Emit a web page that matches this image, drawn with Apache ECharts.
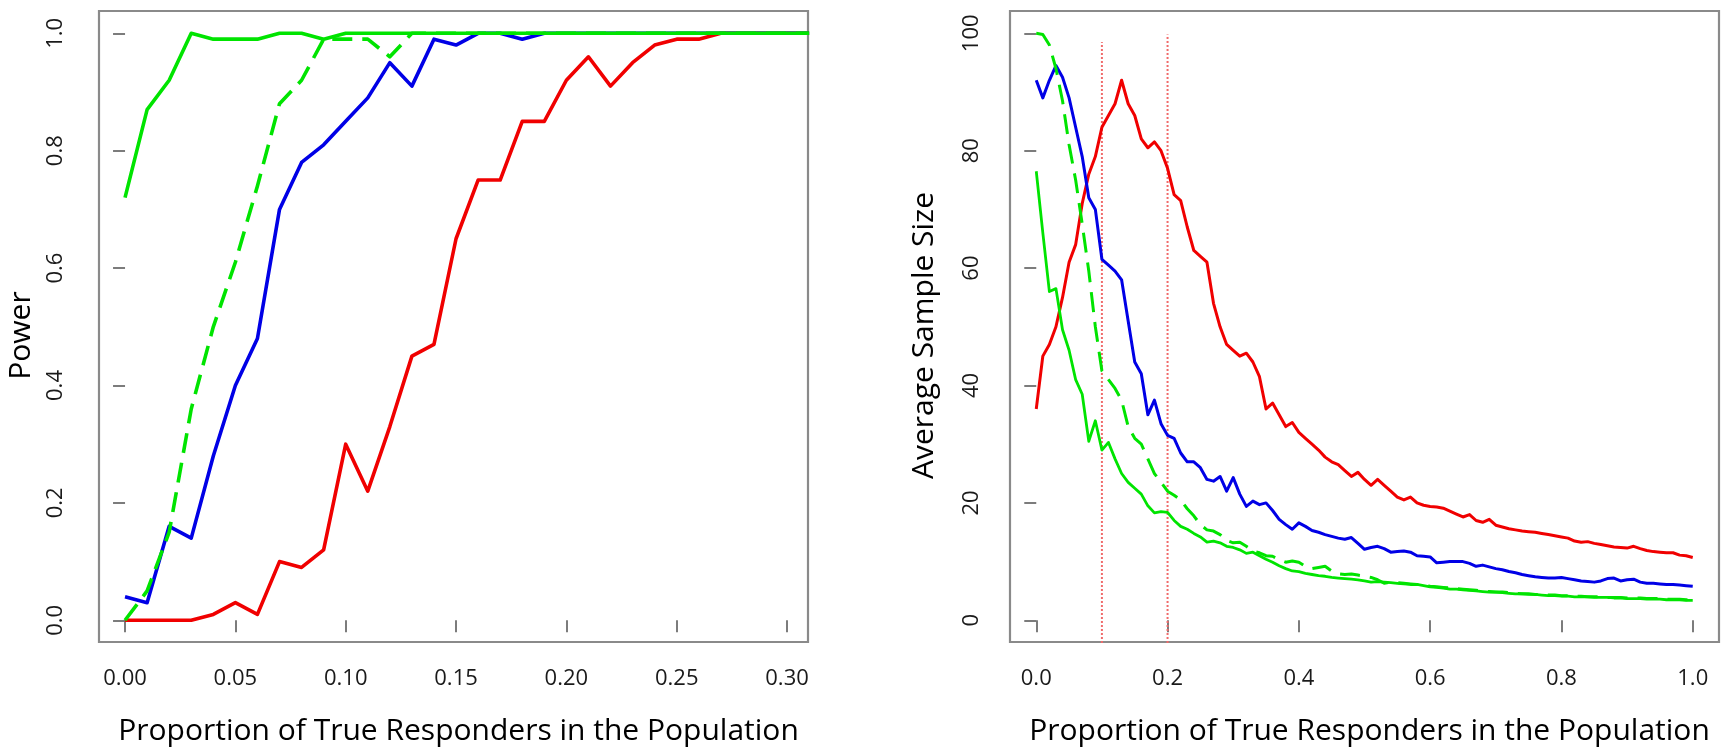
<!DOCTYPE html>
<html><head><meta charset="utf-8">
<script src="https://cdn.jsdelivr.net/npm/echarts@6/dist/echarts.min.js"></script>
<style>html,body{margin:0;padding:0;background:#fff}#c{width:1731px;height:755px}</style>
</head><body><div id="c"></div>
<script>
// ---------- Left panel: Power ----------
const powerX = [0.00,0.01,0.02,0.03,0.04,0.05,0.06,0.07,0.08,0.09,0.10,0.11,0.12,0.13,0.14,0.15,0.16,0.17,0.18,0.19,0.20,0.21,0.22,0.23,0.24,0.25,0.26,0.27,0.28,0.29,0.30,0.31];
const powerRed = [0,0,0,0,0.01,0.03,0.01,0.10,0.09,0.12,0.30,0.22,0.33,0.45,0.47,0.65,0.75,0.75,0.85,0.85,0.92,0.96,0.91,0.95,0.98,0.99,0.99,1.00,1.00,1.00,1.00,1.00];
const powerBlue = [0.04,0.03,0.16,0.14,0.28,0.40,0.48,0.70,0.78,0.81,0.85,0.89,0.95,0.91,0.99,0.98,1.00,1.00,0.99,1.00,1.00,1.00,1.00,1.00,1.00,1.00,1.00,1.00,1.00,1.00,1.00,1.00];
const powerGreenDashed = [0.00,0.05,0.15,0.36,0.50,0.61,0.74,0.88,0.92,0.99,0.99,0.99,0.96,1.00,1.00,1.00,1.00,1.00,1.00,1.00,1.00,1.00,1.00,1.00,1.00,1.00,1.00,1.00,1.00,1.00,1.00,1.00];
const powerGreen = [0.72,0.87,0.92,1.00,0.99,0.99,0.99,1.00,1.00,0.99,1.00,1.00,1.00,1.00,1.00,1.00,1.00,1.00,1.00,1.00,1.00,1.00,1.00,1.00,1.00,1.00,1.00,1.00,1.00,1.00,1.00,1.00];
const powerXTicks = [0,0.05,0.10,0.15,0.20,0.25,0.30];
const powerYTicks = [0,0.2,0.4,0.6,0.8,1.0];

// ---------- Right panel: Average Sample Size ----------
const ssX = [0.00,0.01,0.02,0.03,0.04,0.05,0.06,0.07,0.08,0.09,0.10,0.11,0.12,0.13,0.14,0.15,0.16,0.17,0.18,0.19,0.20,0.21,0.22,0.23,0.24,0.25,0.26,0.27,0.28,0.29,0.30,0.31,0.32,0.33,0.34,0.35,0.36,0.37,0.38,0.39,0.40,0.41,0.42,0.43,0.44,0.45,0.46,0.47,0.48,0.49,0.50,0.51,0.52,0.53,0.54,0.55,0.56,0.57,0.58,0.59,0.60,0.61,0.62,0.63,0.64,0.65,0.66,0.67,0.68,0.69,0.70,0.71,0.72,0.73,0.74,0.75,0.76,0.77,0.78,0.79,0.80,0.81,0.82,0.83,0.84,0.85,0.86,0.87,0.88,0.89,0.90,0.91,0.92,0.93,0.94,0.95,0.96,0.97,0.98,0.99,1.00];
const ssRed = [36,45,47,50,55,61,64,71,76,79,84,86,88,92,88,86,82,80.5,81.5,80,77,72.5,71.5,67,63,62,61,54,50,47,46,45,45.5,44,41.5,36,37,35,33,33.7,32,31,30,29,27.8,27,26.5,25.5,24.5,25.2,24,23,24,23,22,21,20.5,21,20,19.6,19.4,19.3,19.1,18.6,18.1,17.6,18,17,16.7,17.2,16.2,15.9,15.6,15.4,15.2,15.1,15,14.8,14.6,14.4,14.2,14,13.5,13.3,13.4,13.1,12.9,12.7,12.5,12.4,12.3,12.6,12.2,11.9,11.7,11.6,11.5,11.5,11.1,11,10.7];
const ssBlue = [92,89,92,94.5,92.5,89,84,79,72,70,61.5,60.5,59.5,58,51,44,42,35,37.5,33.5,31.5,31,28.5,27,27,26,24,23.7,24.5,22,24.3,21.5,19.4,20.3,19.7,20,18.7,17.2,16.3,15.5,16.6,16,15.3,15,14.6,14.3,14,13.8,14.1,13.1,12.1,12.4,12.6,12.2,11.6,11.7,11.8,11.6,11,10.9,10.8,9.8,9.9,10,10,10,9.7,9.2,9.4,9.1,8.8,8.6,8.3,8.1,7.8,7.6,7.4,7.3,7.2,7.2,7.3,7.1,6.9,6.7,6.6,6.5,6.7,7.1,7.2,6.7,6.9,7.0,6.5,6.3,6.3,6.2,6.1,6.1,6.0,5.9,5.8];
const ssGreenDashed = [100,99.8,98,94,88.5,81,75,67.5,59.5,50,42.5,41,39.5,37.5,33,31,30,27.5,25,23.5,22,21.3,20.5,19,17.8,16.3,15.4,15.2,14.6,13.6,13.2,13.3,12.6,11.8,11.5,11,10.9,10.3,9.9,10.1,9.9,9.2,8.8,9.0,9.2,8.4,7.9,7.8,7.9,7.7,7.5,7.3,6.9,6.3,6.5,6.4,6.3,6.2,6.1,6.0,5.8,5.7,5.6,5.5,5.4,5.3,5.2,5.1,5.0,4.9,4.8,4.8,4.7,4.6,4.5,4.5,4.4,4.4,4.3,4.3,4.2,4.2,4.1,4.1,4.0,4.0,4.0,3.9,3.9,3.9,3.8,3.8,3.8,3.7,3.7,3.7,3.6,3.6,3.6,3.5,3.5];
const ssGreen = [76.5,66,56,56.5,49.5,46,41,38.5,30.5,34,29,30.3,27.5,25,23.5,22.5,21.5,19.5,18.3,18.5,18.4,17,16,15.5,14.8,14.2,13.3,13.5,13.2,12.6,12.4,12.0,11.4,11.6,11,10.4,9.9,9.3,8.8,8.4,8.3,8.0,7.8,7.6,7.5,7.3,7.2,7.1,7.0,6.9,6.7,6.5,6.6,6.5,6.4,6.3,6.2,6.1,6.1,5.9,5.7,5.6,5.5,5.3,5.3,5.2,5.1,5.0,4.9,4.8,4.8,4.7,4.6,4.5,4.5,4.4,4.4,4.3,4.2,4.2,4.1,4.1,4.0,4.0,4.0,3.9,3.9,3.9,3.8,3.8,3.7,3.7,3.7,3.6,3.6,3.6,3.5,3.5,3.5,3.4,3.4];
const ssXTicks = [0,0.2,0.4,0.6,0.8,1.0];
const ssYTicks = [0,20,40,60,80,100];
const refLineX = [0.1, 0.2];
const refLineTop = [98.5, 99.8];
const refLineBottom = -10;

const xTitle = 'Proportion of True Responders in the Population';

const RED = '#f00000', BLUE = '#0000e6', GREEN = '#00e400';
const FONT = 'Open Sans';

function pairs(xs, ys) { return ys.map((y, i) => [xs[i], y]); }

function xAxisCfg(idx, min, max, ticks, digits) {
  return {
    type: 'value', gridIndex: idx, min: min, max: max,
    name: xTitle, nameLocation: 'middle', nameGap: 74,
    nameTextStyle: { fontFamily: FONT, fontSize: 30, color: '#000', padding: [0, 0, 0, 10] },
    axisLine: { show: false },
    axisTick: { show: true, inside: false, length: 12, customValues: ticks, lineStyle: { color: '#6e6e6e', width: 1.8 } },
    axisLabel: { customValues: ticks, margin: 26, fontFamily: FONT, fontSize: 22, color: '#1a1a1a',
      formatter: v => Number(v).toFixed(digits) },
    splitLine: { show: false }
  };
}
function yAxisCfg(idx, min, max, ticks, digits, name, gap, labelMargin) {
  return {
    type: 'value', gridIndex: idx, min: min, max: max,
    name: name, nameLocation: 'middle', nameGap: gap, nameRotate: 90,
    nameTextStyle: { fontFamily: FONT, fontSize: 30, color: '#000', padding: [0, 18, 0, 0] },
    axisLine: { show: false },
    axisTick: { show: true, inside: false, length: 12, customValues: ticks, lineStyle: { color: '#6e6e6e', width: 1.8 } },
    axisLabel: { customValues: ticks, margin: labelMargin, rotate: 90, fontFamily: FONT, fontSize: 22, color: '#1a1a1a',
      formatter: v => Number(v).toFixed(digits) },
    splitLine: { show: false }
  };
}
function lineSeries(xi, ys, color, width, dashed, z) {
  return {
    type: 'line', xAxisIndex: xi, yAxisIndex: xi, data: ys, symbol: 'none', smooth: false,
    clip: true, z: z, animation: false,
    lineStyle: { color: color, width: width, type: dashed ? [20, 10] : 'solid', cap: 'butt', join: 'round' }
  };
}

const series = [
  lineSeries(0, pairs(powerX, powerRed), RED, 3.6, false, 2),
  lineSeries(0, pairs(powerX, powerBlue), BLUE, 3.6, false, 3),
  lineSeries(0, pairs(powerX, powerGreenDashed), GREEN, 3.6, true, 4),
  lineSeries(0, pairs(powerX, powerGreen), GREEN, 3.6, false, 5),
  lineSeries(1, pairs(ssX, ssRed), RED, 3, false, 2),
  lineSeries(1, pairs(ssX, ssBlue), BLUE, 3, false, 3),
  lineSeries(1, pairs(ssX, ssGreenDashed), GREEN, 3, true, 4),
  lineSeries(1, pairs(ssX, ssGreen), GREEN, 2.8, false, 5)
];
refLineX.forEach((x, i) => {
  series.push({
    type: 'line', xAxisIndex: 1, yAxisIndex: 1, symbol: 'none', clip: true, z: 1, animation: false,
    data: [[x, refLineBottom], [x, refLineTop[i]]],
    lineStyle: { color: '#f06a6a', width: 2, type: [2, 2] }
  });
});

const chart = echarts.init(document.getElementById('c'), null, { renderer: 'canvas' });
chart.setOption({
  backgroundColor: '#ffffff',
  animation: false,
  grid: [
    { left: 99, top: 11, width: 709, height: 631, show: true, borderColor: '#8a8a8a', borderWidth: 2.2, backgroundColor: 'transparent' },
    { left: 1010, top: 11, width: 709, height: 631, show: true, borderColor: '#8a8a8a', borderWidth: 2.2, backgroundColor: 'transparent' }
  ],
  xAxis: [
    xAxisCfg(0, -0.0118, 0.3095, powerXTicks, 2),
    xAxisCfg(1, -0.04, 1.04, ssXTicks, 1)
  ],
  yAxis: [
    yAxisCfg(0, -0.037, 1.038, powerYTicks, 1, 'Power', 63, 32),
    yAxisCfg(1, -3.7, 103.8, ssYTicks, 0, 'Average Sample Size', 71, 27)
  ],
  series: series
});
</script>
</body></html>
